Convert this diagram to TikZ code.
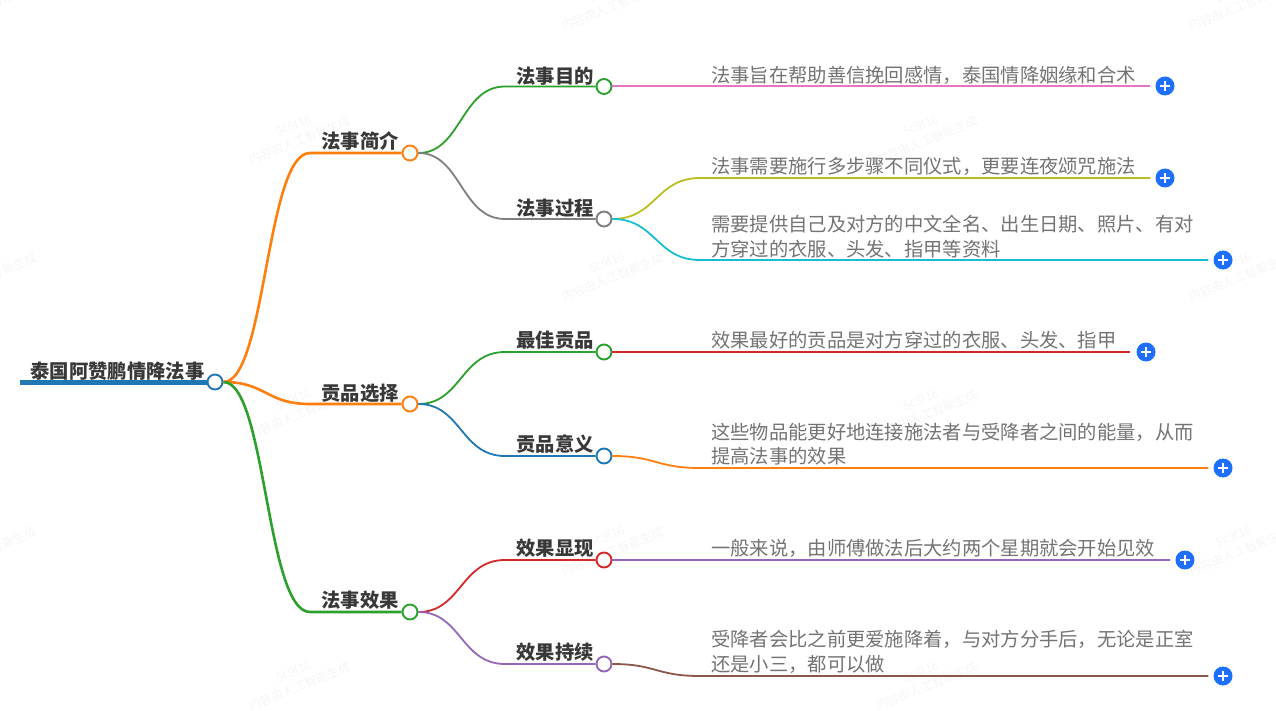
\documentclass[tikz,border=0pt]{standalone}
\usepackage{fontspec}
\setmainfont{Noto Sans CJK SC}
\newcommand{\wmtext}{5c9f16\\内容由人工智能生成}
\definecolor{plusblue}{HTML}{1F6FFF}
\definecolor{cblue}{HTML}{1F77B4}
\definecolor{corange}{HTML}{FF7F0E}
\definecolor{cgreen}{HTML}{2CA02C}
\definecolor{cred}{HTML}{D62728}
\definecolor{cpurple}{HTML}{9467BD}
\definecolor{cbrown}{HTML}{8C564B}
\definecolor{cpink}{HTML}{E377C2}
\definecolor{cgray}{HTML}{7F7F7F}
\definecolor{colive}{HTML}{BCBD22}
\definecolor{ccyan}{HTML}{17BECF}
\begin{document}
\begin{tikzpicture}
  [
    x=1pt, y=-1pt,
    every node/.style={font=\fontsize{19.3}{24.5}\selectfont},
    dot/.style={circle, draw, fill=white, line width=1.9pt, minimum size=15pt, inner sep=0pt},
    title/.style={text=black!78, font=\fontsize{19.3}{24}\selectfont\bfseries, inner sep=0pt},
    leaf/.style={text=black!55, anchor=west, align=left, inner sep=0pt},
    more/.style={circle, fill=plusblue, minimum size=19pt, inner sep=0pt,
      path picture={\draw [white, line width=1.6pt]
        (path picture bounding box.center) +(-5,0) -- +(5,0) +(0,-5) -- +(0,5);}},
    ld/.style={line width=1.8pt},
    lb/.style={line width=2.6pt},
    wm/.style={text=black!4, rotate=22, align=center, font=\fontsize{12}{16}\selectfont}
  ]
  \useasboundingbox (0,0) rectangle (1276,711);

  \node (w1) at (-17,-1) [wm] {\wmtext};
  \node (w2) at (610,-1) [wm] {\wmtext};
  \node (w3) at (1237,-1) [wm] {\wmtext};
  \node (w4) at (297,133) [wm] {\wmtext};
  \node (w5) at (924,133) [wm] {\wmtext};
  \node (w6) at (-17,270) [wm] {\wmtext};
  \node (w7) at (610,270) [wm] {\wmtext};
  \node (w8) at (1237,270) [wm] {\wmtext};
  \node (w9) at (297,407) [wm] {\wmtext};
  \node (w10) at (924,407) [wm] {\wmtext};
  \node (w11) at (-17,544) [wm] {\wmtext};
  \node (w12) at (610,544) [wm] {\wmtext};
  \node (w13) at (1237,544) [wm] {\wmtext};
  \node (w14) at (297,679) [wm] {\wmtext};
  \node (w15) at (924,679) [wm] {\wmtext};

  \node (root) at (215,382) [dot, draw=cblue] {};
  \node (b1) at (410,153) [dot, draw=corange] {};
  \node (b2) at (410,404) [dot, draw=corange] {};
  \node (b3) at (410,612) [dot, draw=cgreen] {};
  \node (c1) at (604,86.5) [dot, draw=cgreen] {};
  \node (c2) at (604,219) [dot, draw=cgray] {};
  \node (c3) at (604,352) [dot, draw=cgreen] {};
  \node (c4) at (604,456) [dot, draw=cblue] {};
  \node (c5) at (604,560) [dot, draw=cred] {};
  \node (c6) at (604,664) [dot, draw=cpurple] {};

  \node (troot) at (117.5,371.5) [title] {泰国阿赞鹏情降法事};
  \node (tb1) at (360,141.5) [title] {法事简介};
  \node (tb2) at (360,393) [title] {贡品选择};
  \node (tb3) at (360,600.5) [title] {法事效果};
  \node (tc1) at (555,76) [title] {法事目的};
  \node (tc2) at (555,208.5) [title] {法事过程};
  \node (tc3) at (555,340.5) [title] {最佳贡品};
  \node (tc4) at (555,444.5) [title] {贡品意义};
  \node (tc5) at (555,548.5) [title] {效果显现};
  \node (tc6) at (555,652.5) [title] {效果持续};

  \node (l1) at (711,75) [leaf] {法事旨在帮助善信挽回感情，泰国情降姻缘和合术};
  \node (l2) at (711,166) [leaf] {法事需要施行多步骤不同仪式，更要连夜颂咒施法};
  \node (l3) at (711,236.5) [leaf] {需要提供自己及对方的中文全名、出生日期、照片、有对\\方穿过的衣服、头发、指甲等资料};
  \node (l4) at (711,340) [leaf] {效果最好的贡品是对方穿过的衣服、头发、指甲};
  \node (l5) at (711,444) [leaf] {这些物品能更好地连接施法者与受降者之间的能量，从而\\提高法事的效果};
  \node (l6) at (711,548) [leaf] {一般来说，由师傅做法后大约两个星期就会开始见效};
  \node (l7) at (711,652) [leaf] {受降者会比之前更爱施降着，与对方分手后，无论是正室\\还是小三，都可以做};

  \node (p1) at (1165,86) [more] {};
  \node (p2) at (1165,178) [more] {};
  \node (p3) at (1223,260) [more] {};
  \node (p4) at (1146,352) [more] {};
  \node (p5) at (1223,468) [more] {};
  \node (p6) at (1185,560) [more] {};
  \node (p7) at (1223,676) [more] {};

  \coordinate (root0) at (20,382);
  \coordinate (j1) at (310,153);
  \coordinate (j2) at (310,404);
  \coordinate (j3) at (310,612);
  \coordinate (k1) at (505,86.5);
  \coordinate (k2) at (505,219);
  \coordinate (k3) at (505,352);
  \coordinate (k4) at (505,456);
  \coordinate (k5) at (505,560);
  \coordinate (k6) at (505,664);
  \coordinate (m2) at (700,178);
  \coordinate (m3) at (700,260);
  \coordinate (m5) at (700,468);
  \coordinate (m7) at (700,676);

  \draw [cblue, line width=5pt] (root0) -- (root);
  \draw [lb, corange] (root.east) .. controls (266,382) and (266,153) .. (j1) -- (b1);
  \draw [lb, corange] (root.east) .. controls (266,382) and (266,404) .. (j2) -- (b2);
  \draw [lb, cgreen] (root.east) .. controls (266,382) and (266,612) .. (j3) -- (b3);
  \draw [ld, cgreen] (b1.east) .. controls (461,153) and (461,86.5) .. (k1) -- (c1);
  \draw [ld, cgray] (b1.east) .. controls (461,153) and (461,219) .. (k2) -- (c2);
  \draw [ld, cgreen] (b2.east) .. controls (461,404) and (461,352) .. (k3) -- (c3);
  \draw [ld, cblue] (b2.east) .. controls (461,404) and (461,456) .. (k4) -- (c4);
  \draw [ld, cred] (b3.east) .. controls (461,612) and (461,560) .. (k5) -- (c5);
  \draw [ld, cpurple] (b3.east) .. controls (461,612) and (461,664) .. (k6) -- (c6);
  \draw [ld, cpink, shorten >=5pt] (c1.east |- p1) -- (p1);
  \draw [ld, colive, shorten >=5pt] (c2.east) .. controls (656,219) and (656,178) .. (m2) -- (p2);
  \draw [ld, ccyan, shorten >=5pt] (c2.east) .. controls (656,219) and (656,260) .. (m3) -- (p3);
  \draw [ld, cred, shorten >=6pt] (c3) -- (p4);
  \draw [ld, corange, shorten >=5pt] (c4.east) .. controls (656,456) and (656,468) .. (m5) -- (p5);
  \draw [ld, cpurple, shorten >=5pt] (c5) -- (p6);
  \draw [ld, cbrown, shorten >=5pt] (c6.east) .. controls (656,664) and (656,676) .. (m7) -- (p7);
\end{tikzpicture}
\end{document}
